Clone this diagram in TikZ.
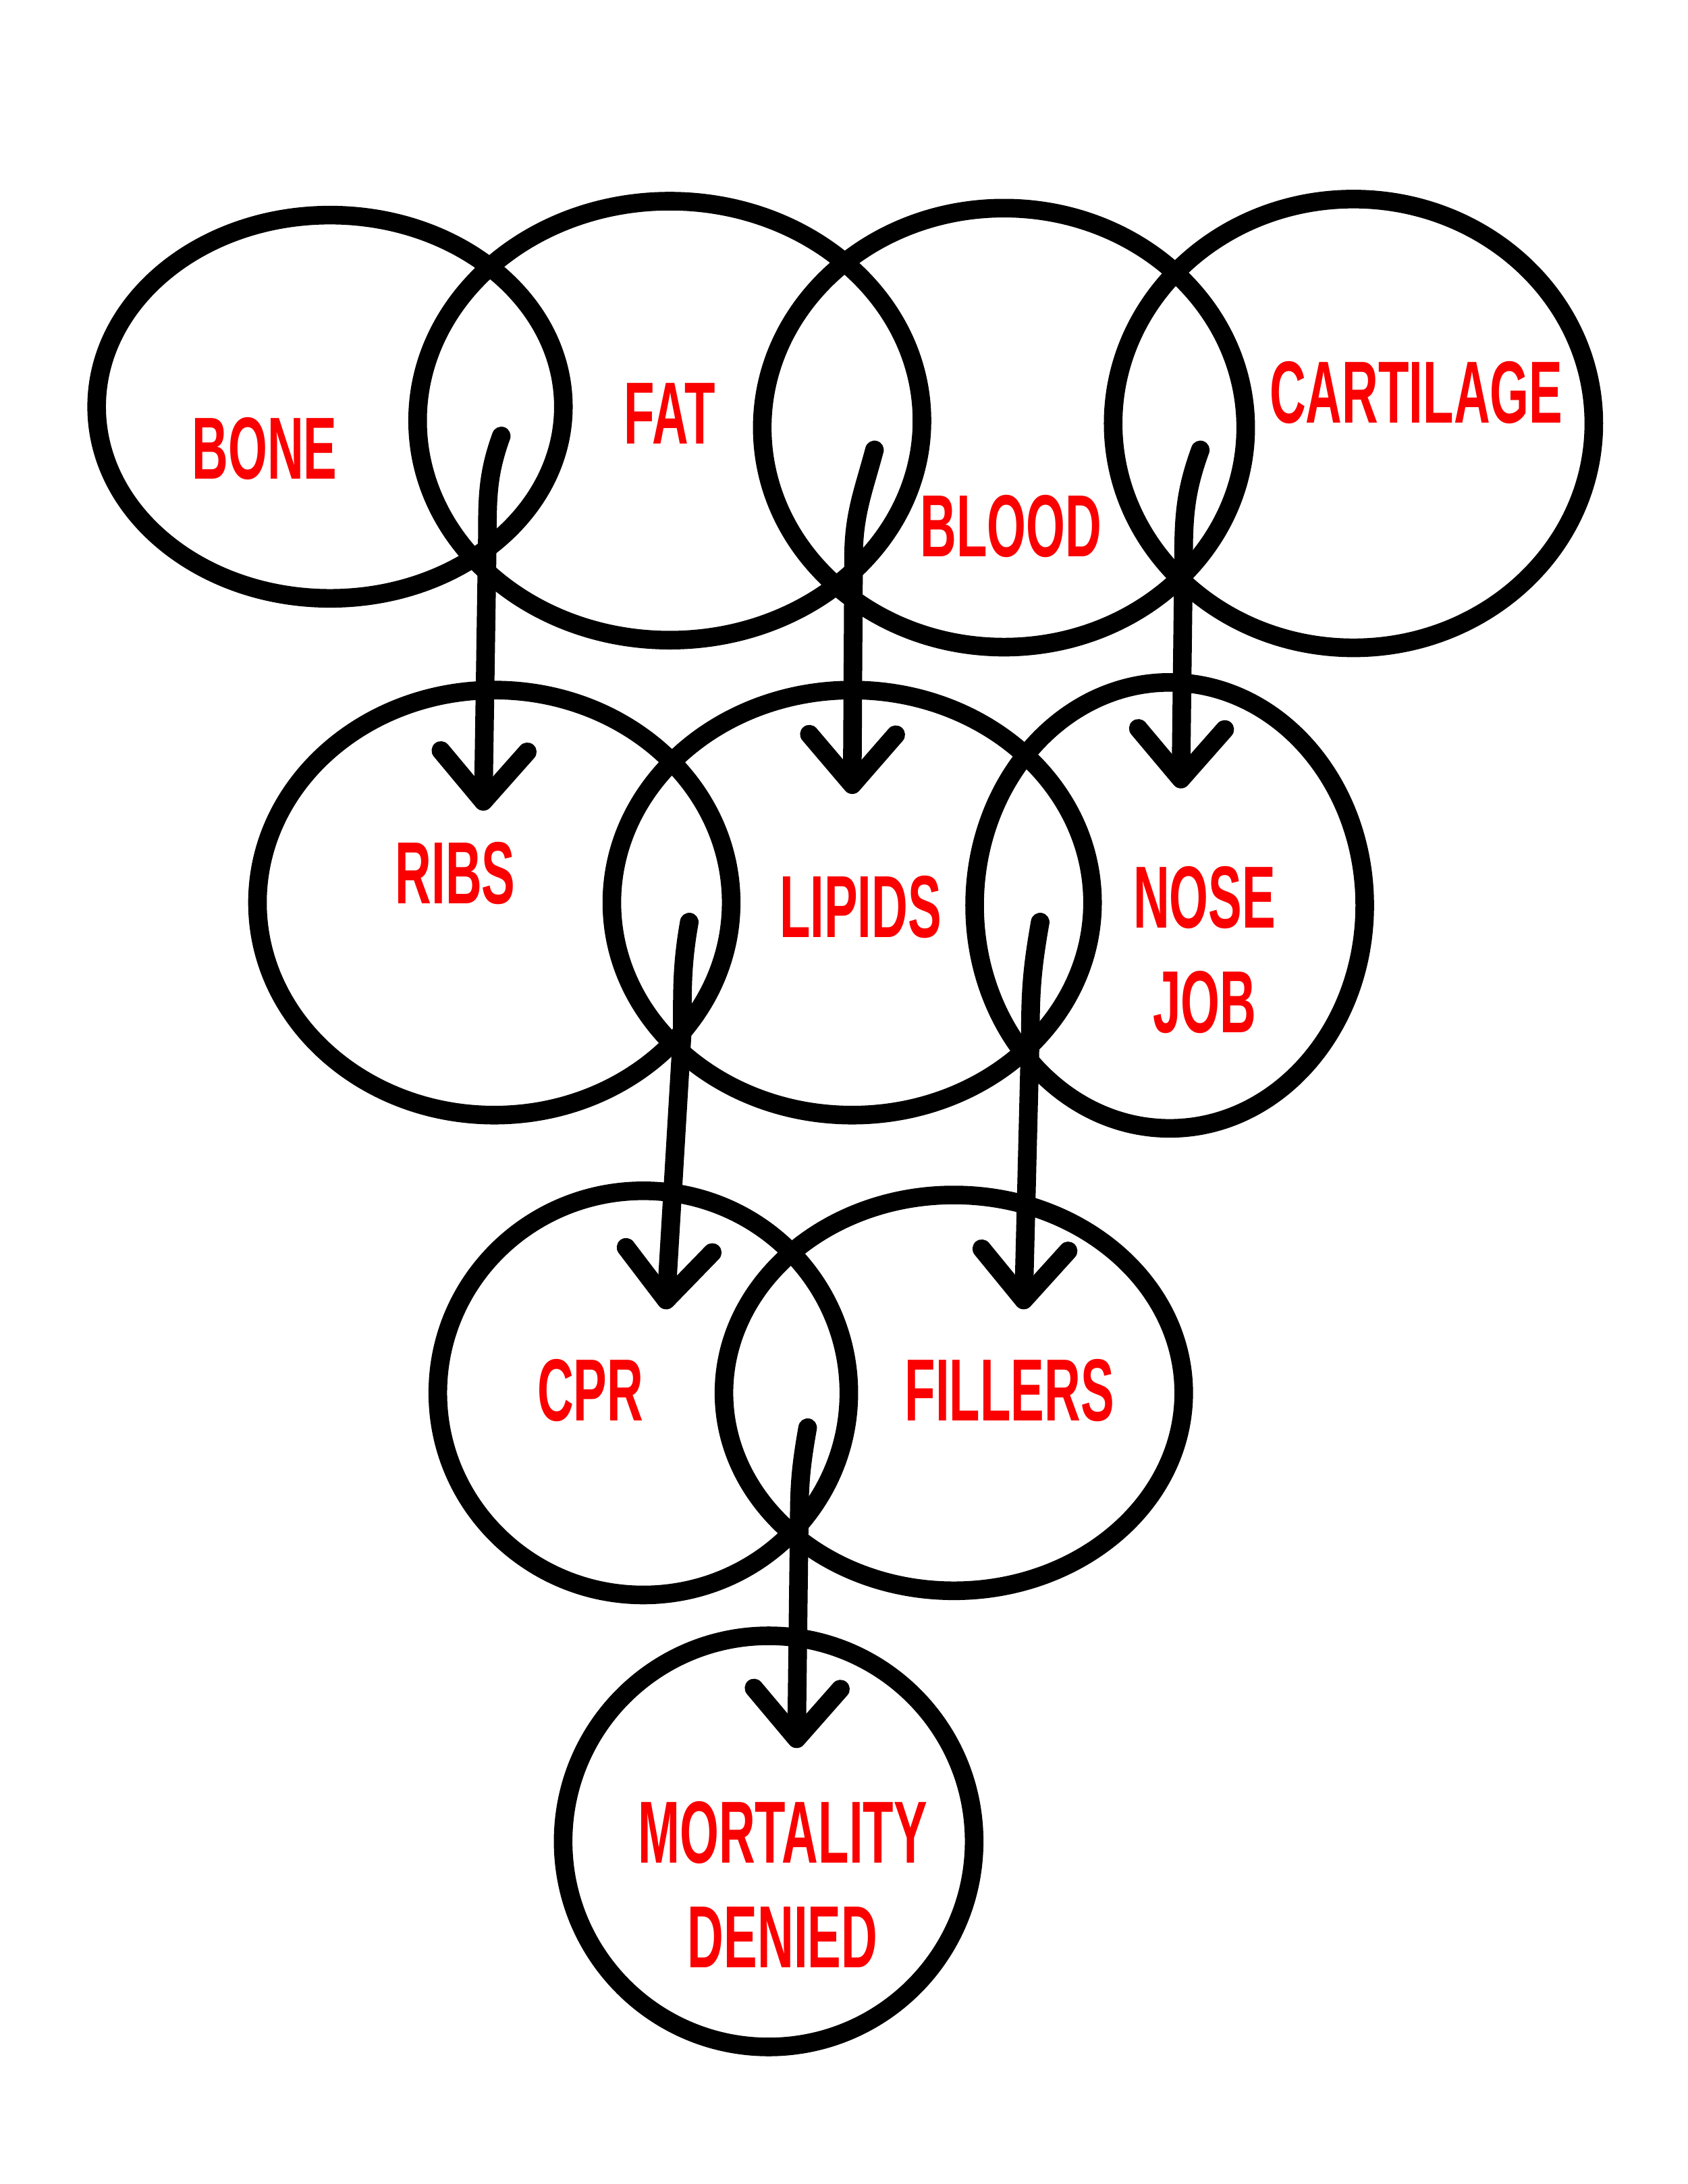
\documentclass[tikz,border=0pt]{standalone}
\usepackage{fontspec}
\usepackage{tikz}
\usetikzlibrary{shapes.geometric,arrows.meta}
\newfontfamily\lblfont[FakeStretch=0.57]{Liberation Sans}
\definecolor{lblred}{RGB}{250,0,0}
\tikzset{
  ring/.style={ellipse,draw,line width=3.8pt,inner sep=0pt},
  lbl/.style={text=lblred,font=\lblfont\bfseries\fontsize{18}{21.3}\selectfont,align=center},
  flow/.style={line width=3.8pt,line cap=round,
    -{Straight Barb[length=0.36cm,width=0.62cm,line width=3.8pt,round]}}
}
\begin{document}
\begin{tikzpicture}[x=0.01cm,y=-0.01cm]
  \useasboundingbox (0,0) rectangle (1212,1568);
  \fill[white] (0,0) rectangle (1212,1568);
  % first row
  \node[ring,minimum width=3.35cm,minimum height=2.75cm] (bone) at (237,292) {};
  \node[ring,minimum width=3.62cm,minimum height=3.15cm] (fat) at (481,302) {};
  \node[ring,minimum width=3.47cm,minimum height=3.15cm] (blood) at (721,307) {};
  \node[ring,minimum width=3.45cm,minimum height=3.22cm] (cartilage) at (972,304) {};
  % second row
  \node[ring,minimum width=3.40cm,minimum height=3.05cm] (ribs) at (355,648) {};
  \node[ring,minimum width=3.45cm,minimum height=3.05cm] (lipids) at (612,648) {};
  \node[ring,minimum width=2.80cm,minimum height=3.20cm] (nosejob) at (840,650) {};
  % third row
  \node[ring,minimum width=2.95cm,minimum height=2.90cm] (cpr) at (462,1000) {};
  \node[ring,minimum width=3.30cm,minimum height=2.84cm] (fillers) at (685,1000) {};
  % last one
  \node[ring,minimum width=2.95cm,minimum height=2.95cm] (mortality) at (552,1322) {};

  \node[lbl] (bone-t) at (190,322) {BONE};
  \node[lbl] (fat-t) at (481,297) {FAT};
  \node[lbl] (blood-t) at (726,378) {BLOOD};
  \node[lbl] (cartilage-t) at (1017,282) {CARTILAGE};
  \node[lbl] (ribs-t) at (327,627) {RIBS};
  \node[lbl] (lipids-t) at (618,651) {LIPIDS};
  \node[lbl] (nosejob-t) at (865,682) {NOSE\\JOB};
  \node[lbl] (cpr-t) at (424,998) {CPR};
  \node[lbl] (fillers-t) at (725,998) {FILLERS};
  \node[lbl] (mortality-t) at (562,1353) {MORTALITY\\DENIED};

  \coordinate (s1) at (360,313); \coordinate (b1) at (350,385); \coordinate (t1) at (347,582);
  \coordinate (s2) at (628,323); \coordinate (b2) at (613,400); \coordinate (t2) at (612,570);
  \coordinate (s3) at (862,323); \coordinate (b3) at (850,400); \coordinate (t3) at (848,566);
  \coordinate (s4) at (495,662); \coordinate (b4) at (490,740); \coordinate (t4) at (478,940);
  \coordinate (s5) at (747,662); \coordinate (b5) at (740,740); \coordinate (t5) at (735,940);
  \coordinate (s6) at (580,1025); \coordinate (b6) at (574,1090); \coordinate (t6) at (572,1255);

  \draw[flow] (s1) to[out=-110,in=90] (b1) -- (t1);
  \draw[flow] (s2) to[out=-105,in=90] (b2) -- (t2);
  \draw[flow] (s3) to[out=-110,in=90] (b3) -- (t3);
  \draw[flow] (s4) to[out=-100,in=90] (b4) -- (t4);
  \draw[flow] (s5) to[out=-100,in=90] (b5) -- (t5);
  \draw[flow] (s6) to[out=-100,in=90] (b6) -- (t6);
\end{tikzpicture}
\end{document}
